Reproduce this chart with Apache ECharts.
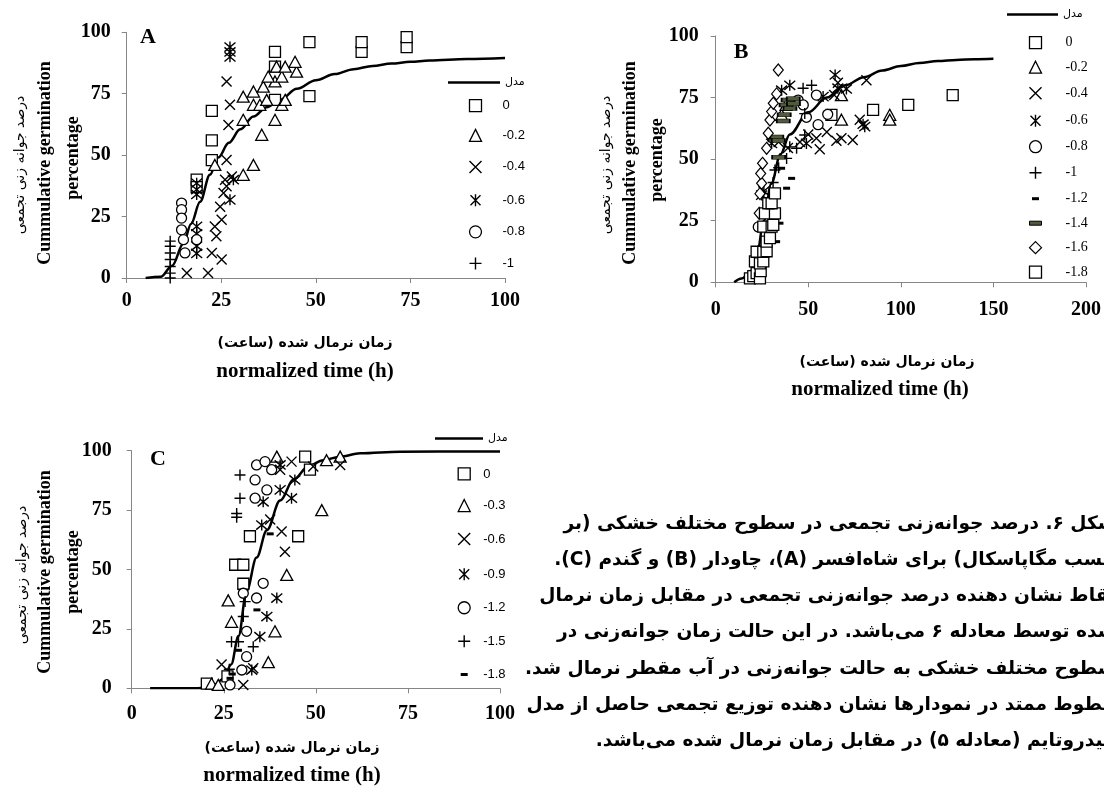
<!DOCTYPE html>
<html>
<head>
<meta charset="utf-8">
<script src="https://cdn.jsdelivr.net/npm/echarts@6/dist/echarts.min.js"></script>
<style>
html, body { margin: 0; padding: 0; background: #fff; }
#main { width: 1104px; height: 793px; }
</style>
</head>
<body>
<div id="main"></div>
<script>
// ---- panel A (شاه‌افسر)
var legendA = ['0', '-0.2', '-0.4', '-0.6', '-0.8', '-1'];
var modelA = [[5, 0], [9, 0.5], [12, 5], [15, 14], [17, 22], [19.4, 31], [22, 42], [24.2, 49], [27, 55], [30, 60.5], [33.5, 65.7], [37, 69.5], [40.5, 72.5], [45, 77], [50, 80.5], [55, 83], [60, 85], [65, 86.3], [70, 87.3], [75, 88], [80, 88.5], [90, 89.1], [100, 89.5]];
var a0 = [[18.5, 40], [18.5, 37], [22.5, 48], [22.5, 56], [22.5, 68], [39.2, 72.5], [39.2, 86], [39.2, 92], [48.3, 74], [48.3, 96], [62.1, 92], [62.1, 96], [74, 94], [74, 98]];
var a02 = [[23.3, 46], [30.8, 42], [33.5, 46], [35.7, 58.3], [30.8, 64.4], [39.2, 64.4], [33.5, 70.5], [35.2, 70.5], [41, 70.5], [30.8, 73.8], [33.5, 75.9], [37, 72.5], [41.9, 72.5], [36.1, 77.9], [39.2, 80], [37.4, 82], [41, 82], [39.6, 86], [41.9, 86], [44.9, 84], [44.5, 88]];
var a04 = [[15.9, 2], [21.5, 2], [25.1, 7.5], [22.5, 10.2], [23.7, 17], [23.3, 21], [25.1, 23.7], [24.7, 29], [25.6, 34.6], [26.4, 37.3], [26, 40], [27.8, 41.3], [26.4, 48], [26.9, 62.3], [27.3, 70.5], [26.4, 80]];
var a06 = [[18.5, 10], [18.5, 13], [18.5, 18], [18.5, 21], [18.5, 34], [18.5, 36], [18.5, 38.6], [27.3, 31.8], [28.2, 40], [27.3, 90], [27.3, 92], [27.3, 94]];
var a08 = [[14.5, 30.5], [14.5, 27.8], [14.5, 24.4], [14.5, 19.6], [15, 15.6], [15.4, 10.2], [18.5, 15.6]];
var a1 = [[11.5, 0], [11.5, 2], [11.5, 4.7], [11.5, 7.5], [11.5, 10.2], [11.5, 12.9], [11.5, 15]];

// ---- panel B (چاودار)
var legendB = ['0', '-0.2', '-0.4', '-0.6', '-0.8', '-1', '-1.2', '-1.4', '-1.6', '-1.8'];
var modelB = [[10, 0], [14, 1.5], [18.5, 3.7], [22, 10], [26, 25], [30, 40], [35, 52], [40, 60], [50, 69], [60, 75], [70, 80], [80, 83.3], [90, 86], [100, 87.8], [110, 89], [120, 89.8], [130, 90.3], [140, 90.6], [150, 90.8]];
var b0 = [[62.5, 68], [85, 70], [104, 72], [128, 76]];
var b02 = [[35.6, 68], [38, 72], [67.9, 76], [67.9, 66], [94, 68], [94, 66]];
var b04 = [[34, 57], [39, 54.5], [45.5, 57], [50, 60], [54.4, 58.5], [56.2, 54], [60, 61], [64, 76], [65.2, 57.5], [66, 81], [67.9, 58.5], [74, 57.8], [77.8, 66], [81.4, 82]];
var b06 = [[24.8, 35.4], [26, 37], [30.2, 56.4], [35.6, 78], [40, 80], [49, 56.4], [58, 75.4], [64.5, 84.2], [66, 78.8], [70.6, 78.5], [79.6, 64.2], [80.5, 63.2]];
var b08 = [[23, 22.5], [44.5, 74], [47.3, 72], [49, 67], [54.4, 76], [55.3, 64], [60.5, 68.2]];
var b1 = [[29, 36], [31, 40.5], [32, 45.6], [34, 46.5], [38.3, 50.3], [40, 55], [43.7, 54.4], [47.2, 78.8], [48.1, 68.5], [48.1, 59.8], [51.8, 80]];
var b12 = [[32.9, 16.5], [34.7, 24], [35.6, 46.3], [38.3, 38.2], [41, 42.2]];
var b14 = [[32, 57.8], [33, 59], [33.8, 57.6], [34, 50.8], [36.5, 65.5], [37, 68], [38, 72], [39.1, 74], [40.1, 70.6], [41.9, 74.5], [42, 72.5]];
var b16 = [[23.5, 28], [23.9, 36], [24.8, 40.2], [24.3, 44.2], [25.3, 48.3], [27.5, 54.4], [28.4, 60.5], [29.3, 65.9], [30.2, 69.3], [31.1, 72.7], [32.9, 76.5], [33.8, 86.2]];
var b18 = [[18.5, 1.6], [20.3, 2.5], [22.1, 3.7], [23.9, 1.6], [24.3, 4.5], [21.2, 8.5], [23.9, 7.7], [25.7, 8.5], [22.1, 12.4], [25.7, 12.4], [27.5, 12.6], [27.5, 16.5], [29.3, 17.9], [25.7, 22.6], [30.2, 22.6], [31.1, 23.3], [26.6, 28], [32, 28], [28.4, 32.1], [30.2, 32.1], [32, 36.1]];

// ---- panel C (گندم)
var legendC = ['0', '-0.3', '-0.6', '-0.9', '-1.2', '-1.5', '-1.8'];
var modelC = [[5, 0], [18, 0], [22, 1], [25, 4], [27, 10], [29, 22], [31.2, 41], [33.9, 55], [36.7, 66.5], [40.3, 79], [44, 88], [48, 93.5], [52, 96], [56.6, 97.5], [62, 98.9], [72.9, 99.6], [100, 99.7]];
var c0 = [[20.4, 2], [26, 5], [28.1, 52], [30.3, 52], [30.3, 44], [32.1, 64], [45.2, 64], [47.1, 97.5], [48.4, 92]];
var c03 = [[21.7, 2], [23.5, 1.4], [26.2, 37], [27.1, 28], [37.1, 11], [38.9, 24], [39.4, 97.5], [42.1, 47.7], [51.6, 75], [52.9, 96], [56.6, 97.5]];
var c06 = [[24.4, 10], [30.3, 1.4], [33, 8.4], [37.6, 71], [40.3, 92], [40.7, 66], [41.6, 57.5], [43.4, 95.4], [49.3, 93.3], [56.6, 94]];
var c09 = [[32.6, 7.7], [34.8, 21.7], [35.3, 68.7], [35.7, 78.5], [36.7, 30.2], [39.4, 38], [40.3, 83.5], [43.4, 80], [44.3, 87.7], [40.3, 94]];
var c12 = [[26.7, 1.4], [29.9, 7.7], [31.2, 13.3], [31.2, 24], [30.3, 40], [33.9, 38], [35.7, 44.2], [33.5, 80], [36.7, 83.5], [33.5, 87.7], [38, 92], [33.9, 94], [36.2, 95.4]];
var c15 = [[26.5, 8], [27.1, 19.6], [29, 19.6], [33, 17.5], [30.3, 30.2], [30.8, 36.5], [28.5, 72], [28.5, 73.6], [29.4, 80], [29.4, 89.8]];
var c18 = [[26.7, 4.2], [27.3, 6], [29, 16], [34, 33], [37.6, 65]];

// ---- texts
var modelName = 'مدل';
var yTitleFa = 'درصد جوانه زنی تجمعی';
var yTitleEn1 = 'Cummulative germination';
var yTitleEn2 = 'percentage';
var xTitleFa = 'زمان نرمال شده (ساعت)';
var xTitleEn = 'normalized time (h)';
var captionLines = [
    'شکل ۶. درصد جوانه‌زنی تجمعی در سطوح مختلف خشکی (بر',
    'حسب مگاپاسکال) برای شاه‌افسر (A)، چاودار (B) و گندم (C).',
    'نقاط نشان دهنده درصد جوانه‌زنی تجمعی در مقابل زمان نرمال',
    'شده توسط معادله ۶ می‌باشد. در این حالت زمان جوانه‌زنی در',
    'سطوح مختلف خشکی به حالت جوانه‌زنی در آب مقطر نرمال شد.',
    'خطوط ممتد در نمودارها نشان دهنده توزیع تجمعی حاصل از مدل',
    'هیدروتایم (معادله ۵) در مقابل زمان نرمال شده می‌باشد.'
];

var myChart = echarts.init(document.getElementById('main'));
var FA = '"DejaVu Sans"';

// marker styles
var SQ = {symbol: 'rect', size: 11, fill: '#fff', bw: 1.3};
var TRI = {symbol: 'triangle', size: [12, 11], fill: '#fff', bw: 1.3};
var CROSS = {symbol: 'path://M0,0L10,10M10,0L0,10', size: 10, fill: 'none', bw: 1.4};
var STAR = {symbol: 'path://M0,0L10,10M10,0L0,10M5,-1L5,11', size: 11, fill: 'none', bw: 1.4};
var CIRC = {symbol: 'circle', size: 10, fill: '#fff', bw: 1.3};
var PLUS = {symbol: 'path://M5,0L5,10M0,5L10,5', size: 11, fill: 'none', bw: 1.4};
var DASH = {symbol: 'rect', size: [7, 3], fill: '#000', bw: 0, icon: 'path://M0,0M12,12M2.5,4.5h7v3h-7z'};
var LDASH = {symbol: 'rect', size: [13, 4], fill: '#4f5b3a', bw: 1, icon: 'path://M0,0M12,12M0,4h12v4h-12z'};
var DIAM = {symbol: 'diamond', size: [10, 12], fill: '#fff', bw: 1.2};

function rtl(s) {
    return '\u202B' + s + '\u202C';
}

function strip(name) {
    return name.split('|')[1];
}

function modelSeries(panel, idx, data) {
    return {
        name: panel + '|' + modelName,
        type: 'line',
        xAxisIndex: idx,
        yAxisIndex: idx,
        data: data,
        symbol: 'none',
        smooth: 0.35,
        smoothMonotone: 'x',
        lineStyle: {color: '#000', width: 2.5},
        itemStyle: {color: '#000'},
        z: 2,
        silent: true
    };
}

function pointSeries(panel, idx, name, data, sym) {
    return {
        name: panel + '|' + name,
        type: 'scatter',
        xAxisIndex: idx,
        yAxisIndex: idx,
        data: data,
        symbol: sym.symbol,
        symbolSize: sym.size,
        itemStyle: {color: sym.fill, borderColor: '#000', borderWidth: sym.bw, opacity: 1},
        z: 3,
        silent: true
    };
}

var symsA = [SQ, TRI, CROSS, STAR, CIRC, PLUS];
var dataA = [a0, a02, a04, a06, a08, a1];
var symsB = [SQ, TRI, CROSS, STAR, CIRC, PLUS, DASH, LDASH, DIAM, SQ];
var dataB = [b0, b02, b04, b06, b08, b1, b12, b14, b16, b18];
var symsC = [SQ, TRI, CROSS, STAR, CIRC, PLUS, DASH];
var dataC = [c0, c03, c06, c09, c12, c15, c18];

var series = [modelSeries('A', 0, modelA), modelSeries('B', 1, modelB), modelSeries('C', 2, modelC)];
legendA.forEach(function (n, i) { series.push(pointSeries('A', 0, n, dataA[i], symsA[i])); });
legendB.forEach(function (n, i) { series.push(pointSeries('B', 1, n, dataB[i], symsB[i])); });
legendC.forEach(function (n, i) { series.push(pointSeries('C', 2, n, dataC[i], symsC[i])); });

function legendItems(panel, names, syms) {
    return names.map(function (n, i) {
        var item = {name: panel + '|' + n};
        if (syms[i].icon) item.icon = syms[i].icon;
        return item;
    });
}

function modelLegend(panel, left, top, width) {
    return {
        orient: 'vertical', left: left, top: top, padding: 0,
        itemWidth: width, itemHeight: 2.5, selectedMode: false,
        data: [{name: panel + '|' + modelName, icon: 'rect'}], formatter: strip,
        textStyle: {fontFamily: 'DejaVu Sans', fontSize: 11, color: '#000'}
    };
}

function markerLegend(panel, names, syms, left, top, gap, font, size, pad) {
    return {
        orient: 'vertical', left: left, top: top, padding: 0,
        itemWidth: 12, itemHeight: 12, itemGap: gap, selectedMode: false,
        data: legendItems(panel, names, syms), formatter: strip,
        itemStyle: {borderWidth: 'inherit'},
        textStyle: {fontFamily: font, fontSize: size, lineHeight: 12, color: '#000', padding: [0, 0, 0, pad]}
    };
}

function xAxisOf(idx, max, interval, margin) {
    return {
        gridIndex: idx, type: 'value', min: 0, max: max, interval: interval,
        axisLine: {show: true, onZero: false, lineStyle: {color: '#868686', width: 1}},
        axisTick: {show: true, length: 5, lineStyle: {color: '#868686'}},
        splitLine: {show: false},
        axisLabel: {margin: margin, fontFamily: 'Liberation Serif', fontWeight: 'bold', fontSize: 20, color: '#000'}
    };
}

function yAxisOf(idx, margin) {
    return {
        gridIndex: idx, type: 'value', min: 0, max: 100, interval: 25,
        axisLine: {show: true, lineStyle: {color: '#868686', width: 1}},
        axisTick: {show: true, length: 5, lineStyle: {color: '#868686'}},
        splitLine: {show: false},
        axisLabel: {margin: margin, fontFamily: 'Liberation Serif', fontWeight: 'bold', fontSize: 20, color: '#000'}
    };
}

function txt(x, y, s, font, rot, align) {
    return {
        type: 'text', x: x, y: y, rotation: rot || 0, silent: true,
        style: {text: s, font: font, fill: '#000', textAlign: align || 'center', textVerticalAlign: 'middle', verticalAlign: 'middle'}
    };
}

var serifB = 'bold 18px "Liberation Serif"';
var faY = '14px ' + FA;
var faX = 'bold 14px ' + FA;
var enX = 'bold 21px "Liberation Serif"';
var letter = 'bold 22px "Liberation Serif"';
var R = Math.PI / 2;

// caption size so that full lines cover the text block width
function captionSize() {
    var ctx = document.createElement('canvas').getContext('2d');
    ctx.font = 'bold 16px ' + FA;
    var w = 0;
    for (var i = 0; i < 6; i++) {
        w += ctx.measureText(captionLines[i]).width;
    }
    w = w / 6;
    var s = 16 * 572 / w;
    return Math.max(12, Math.min(19, s));
}
var capFont = 'bold ' + captionSize().toFixed(1) + 'px ' + FA;

var graphics = [
    txt(148, 37, 'A', letter), txt(741, 52, 'B', letter), txt(158, 459, 'C', letter),
    // panel A titles
    txt(20, 165, yTitleFa, faY, R), txt(45, 163, yTitleEn1, serifB, R), txt(73, 158, yTitleEn2, serifB, R),
    txt(305, 343, rtl(xTitleFa), faX), txt(305, 372, xTitleEn, enX),
    // panel B titles
    txt(606, 165, yTitleFa, faY, R), txt(630, 163, yTitleEn1, serifB, R), txt(657, 160, yTitleEn2, serifB, R),
    txt(887, 362, rtl(xTitleFa), faX), txt(880, 390, xTitleEn, enX),
    // panel C titles
    txt(22, 575, yTitleFa, faY, R), txt(45, 572, yTitleEn1, serifB, R), txt(73, 572, yTitleEn2, serifB, R),
    txt(292, 748, rtl(xTitleFa), faX), txt(292, 776, xTitleEn, enX)
];
captionLines.forEach(function (line, i) {
    graphics.push(txt(1116, 524 + i * 36.2, rtl(line), capFont, 0, 'right'));
});

option = {
    backgroundColor: '#fff',
    animation: false,
    grid: [
        {left: 126.7, top: 32.3, width: 378.3, height: 245.7},
        {left: 715.7, top: 36, width: 371, height: 246.3},
        {left: 131.7, top: 450.7, width: 368.3, height: 237.6}
    ],
    xAxis: [xAxisOf(0, 100, 25, 13), xAxisOf(1, 200, 50, 18), xAxisOf(2, 100, 25, 16)],
    yAxis: [yAxisOf(0, 16), yAxisOf(1, 17), yAxisOf(2, 20)],
    legend: [
        modelLegend('A', 448, 77, 52),
        markerLegend('A', legendA, symsA, 467, 99, 16.4, 'Liberation Sans', 13, 16),
        modelLegend('B', 1007, 9, 51),
        markerLegend('B', legendB, symsB, 1027, 35.7, 10.5, 'Liberation Serif', 14, 19),
        modelLegend('C', 435, 433, 48),
        markerLegend('C', legendC, symsC, 455.7, 467.3, 18.3, 'Liberation Sans', 13, 8)
    ],
    graphic: graphics,
    series: series
};
myChart.setOption(option);

window.onresize = function () {
    if (myChart) {
        myChart.resize();
    }
};
</script>
</body>
</html>
